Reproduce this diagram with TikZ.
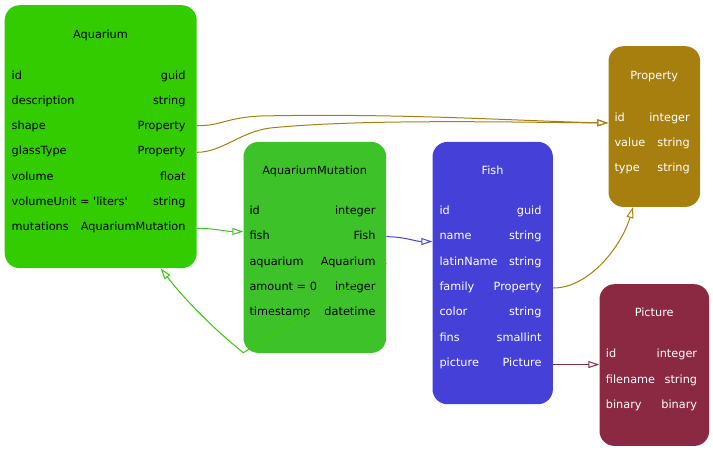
\documentclass[tikz,border=0pt]{standalone}
\usepackage{fontspec}
\newfontfamily\dvs{DejaVu Sans}
\usetikzlibrary{arrows.meta}
\definecolor{cAq}{HTML}{33CC00}
\definecolor{cAM}{HTML}{3EC22A}
\definecolor{cFish}{HTML}{4440D8}
\definecolor{cProp}{HTML}{A67F0E}
\definecolor{cPic}{HTML}{8B2942}
\tikzset{
  tbl/.style={rounded corners=15pt, inner sep=0pt, anchor=north west},
  ttl/.style={anchor=base, inner sep=0pt},
  lft/.style={anchor=base west, inner sep=0pt},
  rgt/.style={anchor=base east, inner sep=0pt},
  rel/.style={line width=1pt, -{Triangle[open,length=11pt,width=7pt]}},
}
\begin{document}
\begin{tikzpicture}[x=1pt,y=-1pt,font=\dvs\fontsize{11.3}{13}\selectfont]
\useasboundingbox (0,0) rectangle (713,451);
% boxes
\node[tbl, fill=cAq, minimum width=192pt, minimum height=263pt] (aq) at (4.5,5) {};
\node[tbl, fill=cAM, minimum width=142.7pt, minimum height=211pt] (am) at (243.3,141.7) {};
\node[tbl, fill=cFish, minimum width=120.4pt, minimum height=262.3pt] (fi) at (432.3,141.7) {};
\node[tbl, fill=cProp, minimum width=91.7pt, minimum height=160.7pt] (pr) at (608.3,46) {};
\node[tbl, fill=cPic, minimum width=109.7pt, minimum height=161.7pt] (pi) at (599.3,284) {};
% Aquarium
\node[ttl] (aqt) at (100.5,38) {Aquarium};
\foreach \l/\r [count=\i] in {id/guid, description/string, shape/Property, glassType/Property, volume/float, {volumeUnit = 'liters'}/string, mutations/AquariumMutation}{
  \node[lft] (aq\i l) at (11.5,{79+25.3*(\i-1)}) {\l};
  \node[rgt] (aq\i r) at (185.7,{79+25.3*(\i-1)}) {\r};
}
% AquariumMutation
\node[ttl] (amt) at (314.7,174.3) {AquariumMutation};
\foreach \l/\r [count=\i] in {id/integer, fish/Fish, aquarium/Aquarium, {amount = 0}/integer, timestamp/datetime}{
  \node[lft] (am\i l) at (249.3,{214.5+25.3*(\i-1)}) {\l};
  \node[rgt] (am\i r) at (375.7,{214.5+25.3*(\i-1)}) {\r};
}
% Fish
\node[ttl, text=white] (fit) at (492.5,174.3) {Fish};
\foreach \l/\r [count=\i] in {id/guid, name/string, latinName/string, family/Property, color/string, fins/smallint, picture/Picture}{
  \node[lft, text=white] (fi\i l) at (439.3,{214.5+25.3*(\i-1)}) {\l};
  \node[rgt, text=white] (fi\i r) at (541.7,{214.5+25.3*(\i-1)}) {\r};
}
% Property
\node[ttl, text=white] (prt) at (654.2,79) {Property};
\foreach \l/\r [count=\i] in {id/integer, value/string, type/string}{
  \node[lft, text=white] (pr\i l) at (614.3,{121+25.3*(\i-1)}) {\l};
  \node[rgt, text=white] (pr\i r) at (690,{121+25.3*(\i-1)}) {\r};
}
% Picture
\node[ttl, text=white] (pit) at (654.2,316.7) {Picture};
\foreach \l/\r [count=\i] in {id/integer, filename/string, binary/binary}{
  \node[lft, text=white] (pi\i l) at (605.7,{357.7+25.3*(\i-1)}) {\l};
  \node[rgt, text=white] (pi\i r) at (697.3,{357.7+25.3*(\i-1)}) {\r};
}
% connectors
\draw[rel, cProp] (aq.east |- 0,125.7) .. controls +(25,0) and +(-35,2) .. (260,116)
   .. controls (400,113) and (520,121) .. (pr.west |- 0,123);
\draw[rel, cProp] (aq.east |- 0,152.3) .. controls +(25,0) and +(-30,4) .. (270,128)
   .. controls (360,119) and (500,122) .. (pr.west |- 0,123);
\draw[rel, cProp] (fi.east |- 0,288) .. controls (590,288) and (622,245) .. (pr.south -| 633,0);
\draw[rel, cAM] (aq.east |- 0,228.3) .. controls (215,228.3) and (225,231.5) .. (am.west |- 0,231.5);
\draw[rel, cFish] (am.east |- 0,236.7) .. controls (405,236.7) and (415,241.5) .. (fi.west |- 0,241.5);
\draw[rel, cPic] (fi.east |- 0,364.5) -- (pi.west |- 0,364.5);
\draw[rel, cAq] (am.east |- 0,263.3) -- (243.3,352.7) .. controls (215,330) and (185,300) .. (aq.south -| 160.7,0);
\end{tikzpicture}
\end{document}
